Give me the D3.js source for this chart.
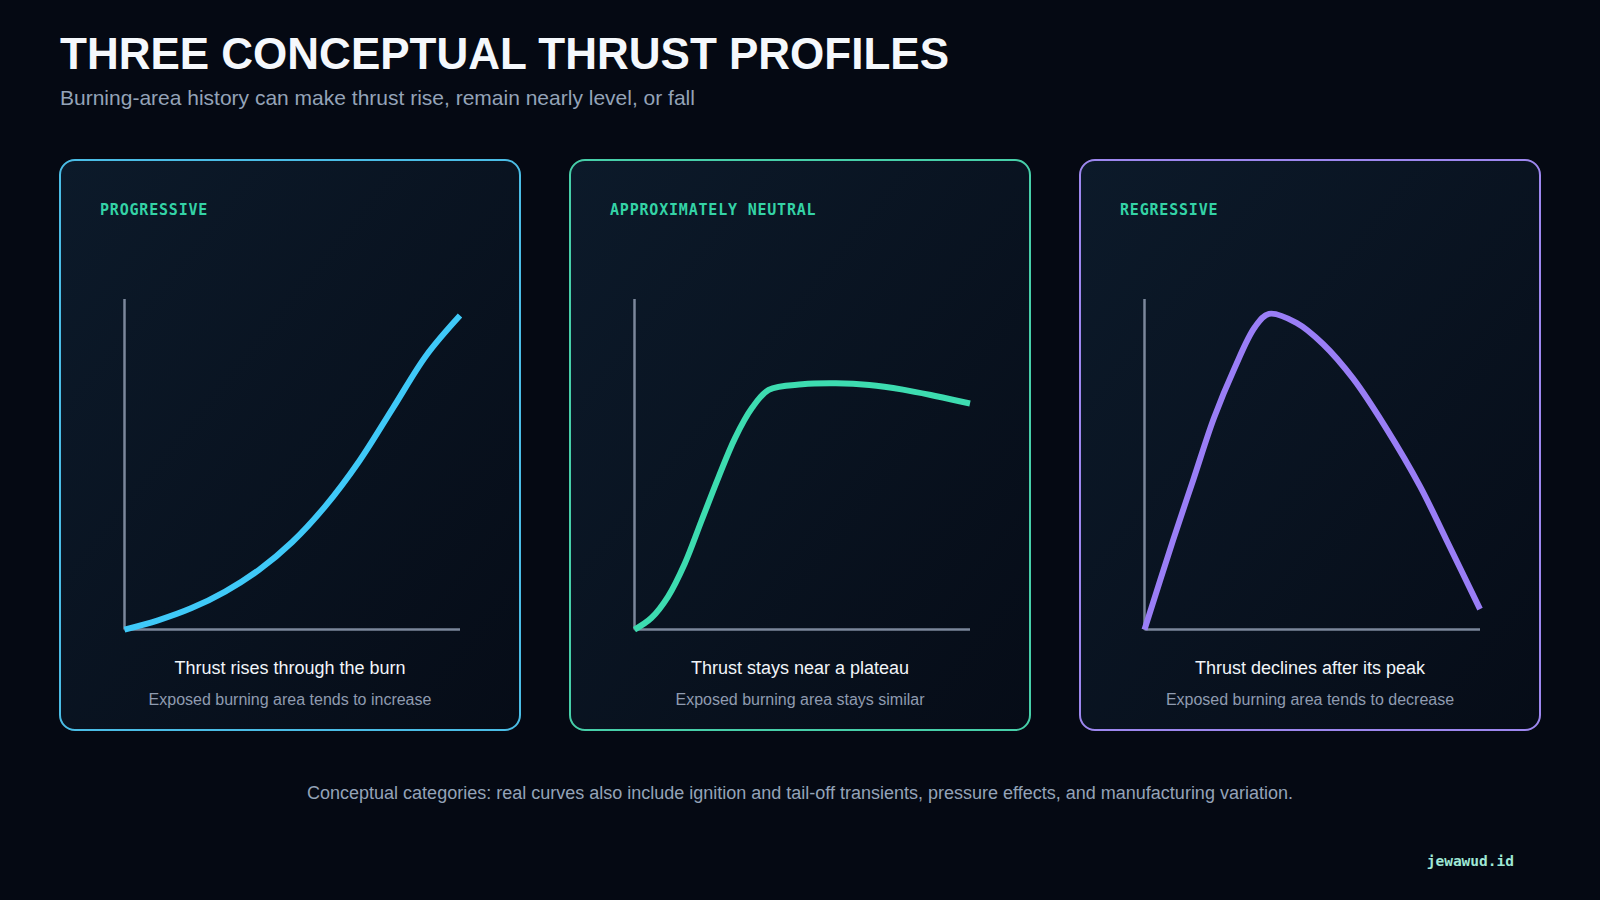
<!DOCTYPE html>
<html>
<head>
<meta charset="utf-8">
<script src="https://cdn.jsdelivr.net/npm/d3@7"></script>
<style>
  html, body { margin: 0; padding: 0; background: #050913; }
  svg { display: block; }
</style>
</head>
<body>
<svg id="chart" width="1600" height="900"></svg>
<script>
// ---- data ----
const titleText = "THREE CONCEPTUAL THRUST PROFILES";
const subtitleText = "Burning-area history can make thrust rise, remain nearly level, or fall";
const footerText = "Conceptual categories: real curves also include ignition and tail-off transients, pressure effects, and manufacturing variation.";
const watermarkText = "jewawud.id";

const profileNames = ["PROGRESSIVE", "APPROXIMATELY NEUTRAL", "REGRESSIVE"];
const captions = ["Thrust rises through the burn", "Thrust stays near a plateau", "Thrust declines after its peak"];
const subcaptions = ["Exposed burning area tends to increase", "Exposed burning area stays similar", "Exposed burning area tends to decrease"];

// normalized burn time (0..1) and normalized thrust (0..1)
const progressiveTime   = [0, 0.1, 0.2, 0.3, 0.4, 0.5, 0.6, 0.7, 0.8, 0.9, 1.0];
const progressiveThrust = [0, 0.028, 0.065, 0.115, 0.18, 0.265, 0.375, 0.51, 0.67, 0.83, 0.95];

const neutralTime   = [0, 0.05, 0.1, 0.15, 0.2, 0.25, 0.3, 0.35, 0.4, 0.5, 0.6, 0.7, 0.8, 0.9, 1.0];
const neutralThrust = [0, 0.035, 0.10, 0.20, 0.33, 0.46, 0.58, 0.67, 0.725, 0.742, 0.745, 0.74, 0.726, 0.706, 0.684];

const regressiveTime   = [0, 0.085, 0.146, 0.207, 0.268, 0.329, 0.371, 0.453, 0.532, 0.622, 0.721, 0.821, 0.9, 1.0];
const regressiveThrust = [0, 0.27, 0.455, 0.64, 0.79, 0.915, 0.955, 0.928, 0.864, 0.759, 0.608, 0.434, 0.271, 0.062];

const seriesTimes = [progressiveTime, neutralTime, regressiveTime];
const seriesThrusts = [progressiveThrust, neutralThrust, regressiveThrust];

const curveColors = ["#3fc9f8", "#3ddcb0", "#9a7ef6"];
const borderColors = ["#4bbde6", "#47cfa9", "#9d87ef"];

// ---- drawing ----
const svg = d3.select("#chart");
const defs = svg.append("defs");
const grad = defs.append("linearGradient").attr("id", "cardGrad")
  .attr("x1", "0%").attr("y1", "0%").attr("x2", "100%").attr("y2", "100%");
grad.append("stop").attr("offset", "0%").attr("stop-color", "#0c1a2a");
grad.append("stop").attr("offset", "100%").attr("stop-color", "#060c17");

svg.append("rect").attr("width", 1600).attr("height", 900).attr("fill", "#050913");

svg.append("text").attr("x", 60).attr("y", 69)
  .attr("font-family", "'Liberation Sans', Arial, sans-serif")
  .attr("font-weight", "bold").attr("font-size", 44)
  .attr("fill", "#f5f8fc").text(titleText);

svg.append("text").attr("x", 60).attr("y", 105)
  .attr("font-family", "'Liberation Sans', Arial, sans-serif")
  .attr("font-size", 21).attr("fill", "#94a3b8").text(subtitleText);

const cardW = 460, cardH = 570, cardY = 160;
const cardX = d3.scaleBand().domain(d3.range(3)).range([60, 1540]).paddingInner(50 / 510);

const x = d3.scaleLinear().domain([0, 1]).range([64.5, 400]);
const y = d3.scaleLinear().domain([0, 1]).range([469.6, 139]);

const line = d3.line()
  .x((d) => x(d[0]))
  .y((d) => y(d[1]))
  .curve(d3.curveCatmullRom.alpha(0.5));

profileNames.forEach((name, i) => {
  const g = svg.append("g").attr("transform", `translate(${cardX(i)},${cardY})`);
  g.append("rect").attr("x", 0).attr("y", 0).attr("width", cardW).attr("height", cardH)
    .attr("rx", 15).attr("ry", 15)
    .attr("fill", "url(#cardGrad)")
    .attr("stroke", borderColors[i]).attr("stroke-width", 2);

  g.append("text").attr("x", 40).attr("y", 55)
    .attr("font-family", "'DejaVu Sans Mono', monospace")
    .attr("font-weight", "bold").attr("font-size", 15)
    .attr("letter-spacing", 0.8)
    .attr("fill", "#34d3a6").text(name);

  // axes
  g.append("line").attr("x1", x(0)).attr("x2", x(0)).attr("y1", y(0)).attr("y2", y(1))
    .attr("stroke", "#7b879b").attr("stroke-width", 2.5);
  g.append("line").attr("x1", x(0)).attr("x2", x(1)).attr("y1", y(0)).attr("y2", y(0))
    .attr("stroke", "#7b879b").attr("stroke-width", 2.5);

  const pts = seriesTimes[i].map((t, k) => [t, seriesThrusts[i][k]]);
  g.append("path").attr("d", line(pts))
    .attr("fill", "none").attr("stroke", curveColors[i])
    .attr("stroke-width", 6).attr("stroke-linejoin", "round");

  g.append("text").attr("x", cardW / 2).attr("y", 514)
    .attr("text-anchor", "middle")
    .attr("font-family", "'Liberation Sans', Arial, sans-serif")
    .attr("font-size", 18).attr("fill", "#f1f5f9").text(captions[i]);

  g.append("text").attr("x", cardW / 2).attr("y", 545)
    .attr("text-anchor", "middle")
    .attr("font-family", "'Liberation Sans', Arial, sans-serif")
    .attr("font-size", 16).attr("fill", "#8f9bb0").text(subcaptions[i]);
});

svg.append("text").attr("x", 800).attr("y", 799)
  .attr("text-anchor", "middle")
  .attr("font-family", "'Liberation Sans', Arial, sans-serif")
  .attr("font-size", 18).attr("fill", "#94a3b8").text(footerText);

svg.append("text").attr("x", 1514).attr("y", 866)
  .attr("text-anchor", "end")
  .attr("font-family", "'DejaVu Sans Mono', monospace")
  .attr("font-weight", "bold").attr("font-size", 14.5)
  .attr("fill", "#9fe8d6").text(watermarkText);
</script>
</body>
</html>
